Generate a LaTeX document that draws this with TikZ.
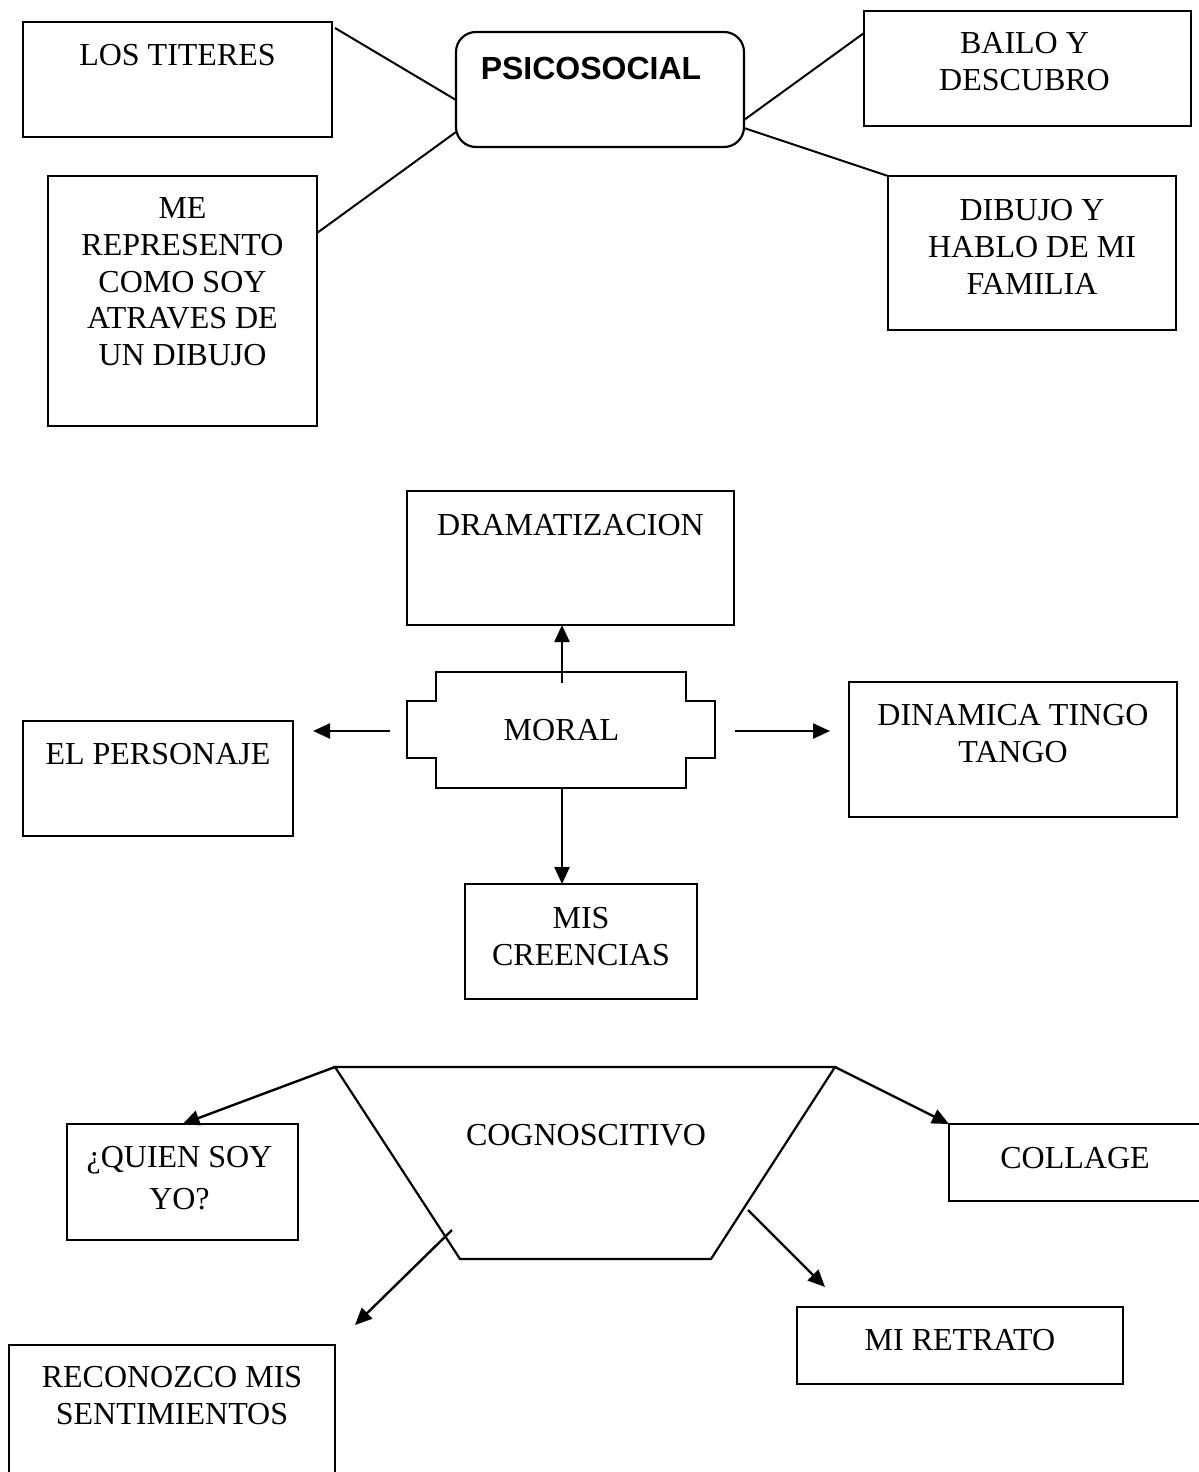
\documentclass[tikz,border=0pt]{standalone}
\usepackage{fontspec}
\setmainfont{Liberation Serif}
\newfontfamily\arialfont{Liberation Sans}
\usetikzlibrary{arrows.meta,fit}
\newcommand\dgfont{\fontsize{32}{36.7}\selectfont}
\tikzset{
  box/.style={draw, line width=2.2pt, rectangle, inner sep=0pt, outer sep=0pt},
  rbox/.style={box, rounded corners=20pt},
  txt/.style={font=\dgfont, align=center, inner sep=0pt, anchor=north},
  conn/.style={line width=2pt},
  shapeline/.style={line width=2.2pt, line join=miter},
  arr/.style={line width=2.4pt, -{Triangle[length=17pt,width=15pt]}}
}
\begin{document}
\begin{tikzpicture}[x=1pt,y=-1pt]
\fill[white] (0,0) rectangle (1199,1472);
\useasboundingbox (0,0) rectangle (1199,1472);

% ---------- PSICOSOCIAL ----------
\node[box, fit={(23,22) (332,137)}] (lt) {};
\node[txt] (lt-t) at ([yshift=-22pt]lt.north) {LOS TITERES};

\node[rbox, fit={(456,32) (744,147)}] (psi) {};
\node[txt, font=\arialfont\bfseries\fontsize{32}{36}\selectfont] (psi-t) at ([xshift=-9pt,yshift=-24.5pt]psi.north) {PSICOSOCIAL};

\node[box, fit={(864,11) (1191,126)}] (bai) {};
\node[txt] (bai-t) at ([xshift=-3pt,yshift=-21.5pt]bai.north) {BAILO Y\\DESCUBRO};

\node[box, fit={(888,176) (1176,330)}] (dib) {};
\node[txt] (dib-t) at ([yshift=-23.5pt]dib.north) {DIBUJO Y\\HABLO DE MI\\FAMILIA};

\node[box, fit={(48,176) (317,426)}] (me) {};
\node[txt] (me-t) at ([yshift=-21.5pt]me.north) {ME\\REPRESENTO\\COMO SOY\\ATRAVES DE\\UN DIBUJO};

\draw[conn] ([xshift=3pt,yshift=-6pt]lt.north east) -- ([yshift=-10.5pt]psi.west);
\draw[conn] ([yshift=-57pt]me.north east) -- ([yshift=-42.5pt]psi.west);
\draw[conn] ([yshift=-30.5pt]psi.east) -- ([yshift=-22pt]bai.north west);
\draw[conn] ([yshift=-38.5pt]psi.east) -- (dib.north west);

% ---------- MORAL ----------
\node[box, fit={(407,491) (734,625)}] (dra) {};
\node[txt] (dra-t) at ([yshift=-23pt]dra.north) {DRAMATIZACION};

\draw[shapeline] (436,672) -- (686,672) -- (686,701) -- (715,701) -- (715,758)
  -- (686,758) -- (686,788) -- (436,788) -- (436,758) -- (407,758) -- (407,701)
  -- (436,701) -- cycle;
\node[txt] (moral) at (561.5,719) {MORAL};

\coordinate (mup) at (562,683);
\coordinate (mdown) at (562,788);
\coordinate (mleft) at (390,731);
\coordinate (mright) at (735,731);

\node[box, fit={(465,884) (697,999)}] (mis) {};
\node[txt] (mis-t) at ([yshift=-23pt]mis.north) {MIS\\CREENCIAS};

\node[box, fit={(23,721) (293,836)}] (per) {};
\node[txt] (per-t) at ([yshift=-22pt]per.north) {EL PERSONAJE};

\node[box, fit={(849,682) (1177,817)}] (din) {};
\node[txt] (din-t) at ([yshift=-22pt]din.north) {DINAMICA TINGO\\TANGO};

\draw[arr] (mup) -- ([xshift=-8.5pt]dra.south);
\draw[arr] (mdown) -- ([xshift=-19pt]mis.north);
\draw[arr] (mleft) -- ([xshift=20pt,yshift=-10pt]per.north east);
\draw[arr] (mright) -- ([xshift=-19pt,yshift=-49pt]din.north west);

% ---------- COGNOSCITIVO ----------
\coordinate (ctl) at (335,1067);
\coordinate (ctr) at (835,1067);
\coordinate (cbr) at (711,1259);
\coordinate (cbl) at (460,1259);
\draw[shapeline] (ctl) -- (ctr) -- (cbr) -- (cbl) -- cycle;
\node[txt] (cog) at (586,1124) {COGNOSCITIVO};

\node[box, fit={(67,1124) (298,1240)}] (q) {};
\node[txt] (q-t) at ([xshift=-3pt,yshift=-22pt]q.north) {¿QUIEN SOY\\[5pt]YO?};

\node[box, fit={(949,1124) (1215,1201)}] (col) {};
\node[txt] (col-t) at (1075,1147) {COLLAGE};

\node[box, fit={(9,1345) (335,1490)}] (rec) {};
\node[txt] (rec-t) at (172,1366) {RECONOZCO MIS\\SENTIMIENTOS};

\node[box, fit={(797,1307) (1123,1384)}] (ret) {};
\node[txt] (ret-t) at ([yshift=-22pt]ret.north) {MI RETRATO};

\coordinate (cl) at (452,1230);
\coordinate (cr) at (748,1210);

\draw[arr] (ctl) -- (q.north);
\draw[arr] (ctr) -- (col.north west);
\draw[arr] (cl) -- ([xshift=20pt,yshift=20pt]rec.north east);
\draw[arr] (cr) -- ([xshift=28pt,yshift=20pt]ret.north west);
\end{tikzpicture}
\end{document}
